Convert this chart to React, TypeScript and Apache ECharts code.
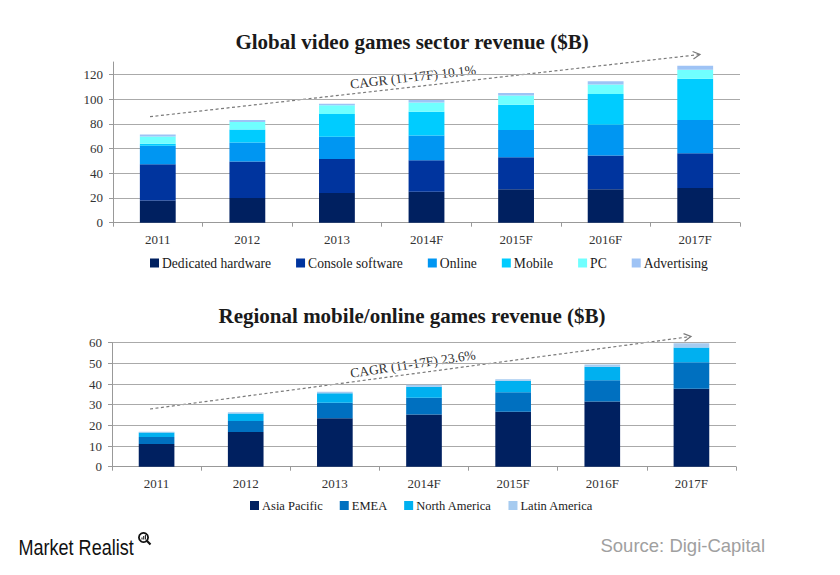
import React, { useEffect, useRef } from "react";
import * as echarts from "echarts";

const years = ["2011", "2012", "2013", "2014F", "2015F", "2016F", "2017F"];

// Global video games sector revenue ($B)
const dedicatedHardware = [18, 20, 24, 25, 27, 27, 28];
const consoleSoftware = [29.3, 29.5, 27.5, 25.5, 26, 27.3, 28.2];
const online = [14.9, 15.4, 18, 20, 22, 25, 26.8];
const mobile = [1.6, 10.5, 18.5, 19.3, 20.5, 24.9, 33.5];
const pc = [5.9, 6, 7, 7.5, 7.3, 7.6, 7.3];
const advertising = [1.7, 1.6, 1.3, 2, 2.2, 2.7, 3.2];

// Regional mobile/online games revenue ($B)
const asiaPacific = [11, 16.8, 23.4, 25.3, 26.6, 31.5, 37.7];
const emea = [3.4, 5.3, 7.6, 8.1, 9.4, 10.3, 12.9];
const northAmerica = [2.2, 3.7, 4.5, 5.3, 5.6, 6.6, 7.1];
const latinAmerica = [0.3, 0.5, 0.8, 1, 0.7, 1.1, 2];

const topNames = ["Dedicated hardware", "Console software", "Online", "Mobile", "PC", "Advertising"];
const topColors = ["#002060", "#00349e", "#0096f2", "#00ccff", "#70ffff", "#9ec3f5"];
const topData = [dedicatedHardware, consoleSoftware, online, mobile, pc, advertising];

const bottomNames = ["Asia Pacific", "EMEA", "North America", "Latin America"];
const bottomColors = ["#002060", "#0070c0", "#00b0f0", "#a6cbf0"];
const bottomData = [asiaPacific, emea, northAmerica, latinAmerica];

const topTitle = "Global video games sector revenue ($B)";
const bottomTitle = "Regional mobile/online games revenue ($B)";
const topCagr = "CAGR (11-17F) 10.1%";
const bottomCagr = "CAGR (11-17F) 23.6%";

const SERIF = "'Liberation Serif', 'DejaVu Serif', serif";

function arrow(x1: number, y1: number, x2: number, y2: number) {
  const ang = Math.atan2(y2 - y1, x2 - x1);
  const len = 8;
  const a1 = ang + Math.PI - 0.5;
  const a2 = ang + Math.PI + 0.5;
  return [
    {
      type: "line",
      shape: { x1, y1, x2, y2 },
      style: { stroke: "#7a7a7a", lineWidth: 1.2, lineDash: [3, 2.5] },
      silent: true,
    },
    {
      type: "polyline",
      shape: {
        points: [
          [x2 + len * Math.cos(a1), y2 + len * Math.sin(a1)],
          [x2, y2],
          [x2 + len * Math.cos(a2), y2 + len * Math.sin(a2)],
        ],
      },
      style: { stroke: "#7a7a7a", lineWidth: 1.2, fill: null },
      silent: true,
    },
  ];
}

export default function App() {
  const ref = useRef<HTMLDivElement>(null);

  useEffect(() => {
    document.body.style.margin = "0";
    if (!ref.current) return;
    const chart = echarts.init(ref.current, null, { renderer: "svg" });

    const axisLabel = { color: "#333333", fontFamily: SERIF, fontSize: 13 };

    const series: any[] = [];
    topData.forEach((d, i) => {
      series.push({
        name: topNames[i],
        type: "bar",
        stack: "top",
        xAxisIndex: 0,
        yAxisIndex: 0,
        barWidth: "40%",
        itemStyle: { color: topColors[i] },
        data: d,
      });
    });
    bottomData.forEach((d, i) => {
      series.push({
        name: bottomNames[i],
        type: "bar",
        stack: "bottom",
        xAxisIndex: 1,
        yAxisIndex: 1,
        barWidth: "40%",
        itemStyle: { color: bottomColors[i] },
        data: d,
      });
    });

    const xAxisCommon = {
      type: "category",
      data: years,
      axisLine: { lineStyle: { color: "#999", width: 1 } },
      axisTick: { show: true, length: 4, lineStyle: { color: "#999" } },
      axisLabel: { ...axisLabel, margin: 10, interval: 0 },
    };
    const yAxisCommon = {
      type: "value",
      min: 0,
      interval: 20,
      axisLine: { show: true, lineStyle: { color: "#999", width: 1 } },
      axisTick: { show: true, length: 4, lineStyle: { color: "#999" } },
      axisLabel: { ...axisLabel, margin: 10 },
      splitLine: { lineStyle: { color: "#aaaaaa", width: 1 } },
    };

    const option: any = {
      animation: false,
      backgroundColor: "#ffffff",
      grid: [
        { left: 113, right: 100, top: 62, height: 160.7 },
        { left: 112, right: 104, top: 342.7, height: 124 },
      ],
      xAxis: [
        { ...xAxisCommon, gridIndex: 0 },
        { ...xAxisCommon, gridIndex: 1 },
      ],
      yAxis: [
        {
          ...yAxisCommon,
          gridIndex: 0,
          max: 130,
          axisLabel: { ...yAxisCommon.axisLabel, showMaxLabel: false },
          splitLine: { ...yAxisCommon.splitLine, showMaxLine: false, showMinLine: false },
        },
        {
          ...yAxisCommon,
          gridIndex: 1,
          max: 60,
          interval: 10,
          splitLine: { ...yAxisCommon.splitLine, showMinLine: false },
        },
      ],
      legend: [
        {
          data: topNames,
          left: 145,
          top: 251,
          icon: "rect",
          itemWidth: 9,
          itemHeight: 9,
          itemGap: 25,
          selectedMode: false,
          textStyle: { fontFamily: SERIF, fontSize: 13.6, color: "#1a1a1a", padding: [0, 0, 0, -2] },
        },
        {
          data: bottomNames,
          left: 245,
          top: 494,
          icon: "rect",
          itemWidth: 9,
          itemHeight: 9,
          itemGap: 17,
          selectedMode: false,
          textStyle: { fontFamily: SERIF, fontSize: 12.5, color: "#1a1a1a", padding: [0, 0, 0, -2] },
        },
      ],
      series,
      graphic: [
        {
          type: "text",
          x: 412,
          y: 42,
          style: {
            text: topTitle,
            fontFamily: SERIF,
            fontSize: 21,
            fontWeight: "bold",
            fill: "#1a1a1a",
            textAlign: "center",
            textVerticalAlign: "middle",
          },
        },
        {
          type: "text",
          x: 412,
          y: 316,
          style: {
            text: bottomTitle,
            fontFamily: SERIF,
            fontSize: 21,
            fontWeight: "bold",
            fill: "#1a1a1a",
            textAlign: "center",
            textVerticalAlign: "middle",
          },
        },
        ...arrow(150, 116.7, 700, 54.5),
        ...arrow(150, 409, 691, 336.5),
        {
          type: "text",
          x: 413,
          y: 77,
          rotation: 0.115,
          style: {
            text: topCagr,
            fontFamily: SERIF,
            fontSize: 13.5,
            fill: "#333333",
            textAlign: "center",
            textVerticalAlign: "middle",
          },
        },
        {
          type: "text",
          x: 413,
          y: 364,
          rotation: 0.148,
          style: {
            text: bottomCagr,
            fontFamily: SERIF,
            fontSize: 13.5,
            fill: "#333333",
            textAlign: "center",
            textVerticalAlign: "middle",
          },
        },
        {
          type: "text",
          x: 18.5,
          y: 547,
          scaleX: 0.82,
          style: {
            text: "Market Realist",
            fontFamily: "'Liberation Sans', Arial, sans-serif",
            fontSize: 22,
            fill: "#111111",
            textAlign: "left",
            textVerticalAlign: "middle",
          },
        },
        {
          type: "circle",
          shape: { cx: 143.5, cy: 537.5, r: 4.6 },
          style: { stroke: "#111", lineWidth: 1.8, fill: "#fff" },
        },
        {
          type: "line",
          shape: { x1: 146.8, y1: 540.8, x2: 150.5, y2: 544.5 },
          style: { stroke: "#111", lineWidth: 2.2 },
        },
        {
          type: "rect",
          shape: { x: 141.5, y: 537.5, width: 1, height: 2 },
          style: { fill: "#111" },
        },
        {
          type: "rect",
          shape: { x: 143.2, y: 536, width: 1, height: 3.5 },
          style: { fill: "#111" },
        },
        {
          type: "rect",
          shape: { x: 144.9, y: 534.8, width: 1, height: 4.7 },
          style: { fill: "#111" },
        },
        {
          type: "text",
          x: 765,
          y: 545,
          style: {
            text: "Source: Digi-Capital",
            fontFamily: "'Liberation Sans', Arial, sans-serif",
            fontSize: 18.5,
            fill: "#a0a0a0",
            textAlign: "right",
            textVerticalAlign: "middle",
          },
        },
      ],
    };

    chart.setOption(option);
    return () => chart.dispose();
  }, []);

  return <div ref={ref} style={{ width: 840, height: 575 }} />;
}
